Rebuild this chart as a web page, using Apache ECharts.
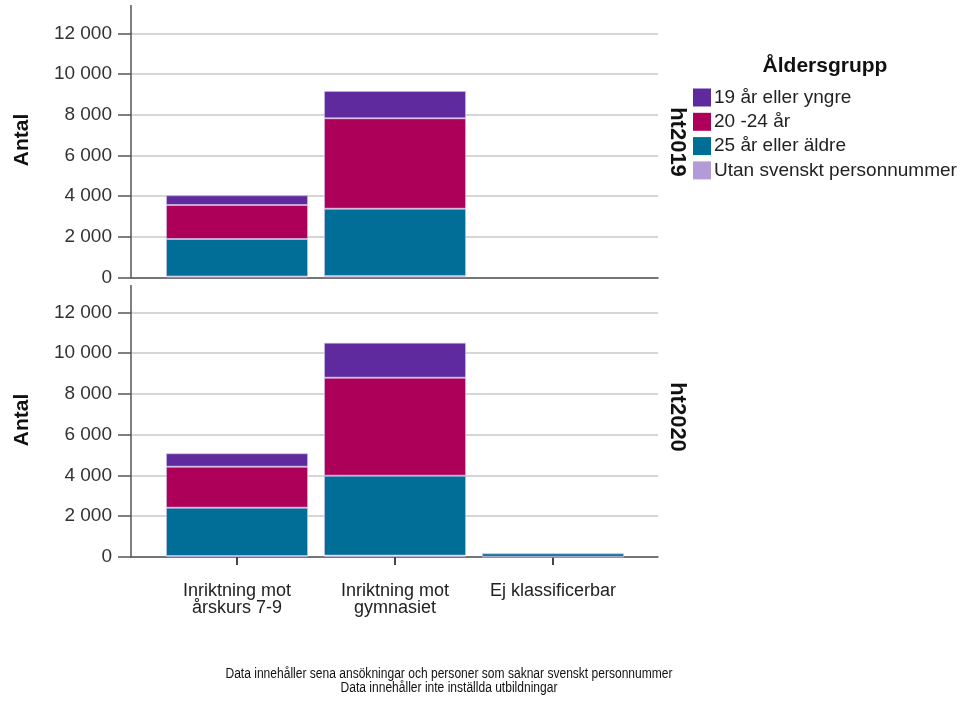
<!DOCTYPE html>
<html>
<head>
<meta charset="utf-8">
<script src="https://cdn.jsdelivr.net/npm/echarts@6/dist/echarts.min.js"></script>
<style>html,body{margin:0;padding:0;background:#fff}#c{width:963px;height:702px}</style>
</head>
<body>
<div id="c"></div>
<script>
const categories = ['Inriktning mot\nårskurs 7-9', 'Inriktning mot\ngymnasiet', 'Ej klassificerbar'];
const panels = ['ht2019', 'ht2020'];
const seriesNames = ['19 år eller yngre', '20 -24 år', '25 år eller äldre', 'Utan svenskt personnummer'];
// values per panel, per category
const y19_2019 = [477, 1344, 0];
const y2024_2019 = [1672, 4446, 0];
const y25_2019 = [1844, 3314, 0];
const utan_2019 = [40, 60, 0];
const y19_2020 = [657, 1716, 0];
const y2024_2020 = [2011, 4807, 0];
const y25_2020 = [2368, 3917, 170];
const utan_2020 = [50, 70, 10];
const yTicks = [0, 2000, 4000, 6000, 8000, 10000, 12000];
const footnote = ['Data innehåller sena ansökningar och personer som saknar svenskt personnummer', 'Data innehåller inte inställda utbildningar'];

const colors = {
  '19 år eller yngre': '#5f2a9e',
  '20 -24 år': '#ad0058',
  '25 år eller äldre': '#006e96',
  'Utan svenskt personnummer': '#b39bd7'
};
const FONT = 'Liberation Sans, Arial, sans-serif';
const panelData = [
  {'19 år eller yngre': y19_2019, '20 -24 år': y2024_2019, '25 år eller äldre': y25_2019, 'Utan svenskt personnummer': utan_2019},
  {'19 år eller yngre': y19_2020, '20 -24 år': y2024_2020, '25 år eller äldre': y25_2020, 'Utan svenskt personnummer': utan_2020}
];
const stackOrder = ['Utan svenskt personnummer', '25 år eller äldre', '20 -24 år', '19 år eller yngre'];

const outer = [
  {left: 131, width: 527, top: 33.3, height: 244},
  {left: 131, width: 527, top: 312.3, height: 244.7}
];
const inner = outer.map(g => ({left: 158, width: 474, top: g.top, height: g.height}));
const grids = outer.concat(inner);
const yMax = yTicks[yTicks.length - 1];
const yStep = yTicks[1] - yTicks[0];
const xAxes = [], yAxes = [], series = [];
outer.forEach((g, i) => {
  xAxes.push({
    type: 'value', gridIndex: i, min: 0, max: 1,
    axisLine: {show: true, onZero: false, lineStyle: {color: '#555', width: 1.5}},
    splitLine: {show: false}, axisTick: {show: false}, axisLabel: {show: false}
  });
  yAxes.push({
    type: 'value', gridIndex: i, min: yTicks[0], max: yMax, interval: yStep,
    axisLine: {show: true, onZero: false, lineStyle: {color: '#555', width: 1.5}},
    axisTick: {show: true, length: 13, lineStyle: {color: '#555', width: 1.5}},
    splitLine: {show: true, lineStyle: {color: '#c8c8c8', width: 1.5}},
    axisLabel: {fontFamily: FONT, fontSize: 19, color: '#333', margin: 19,
      formatter: v => String(v).replace(/\B(?=(\d{3})+(?!\d))/g, ' ')}
  });
});
inner.forEach((g, i) => {
  const last = i === inner.length - 1;
  const gi = outer.length + i;
  xAxes.push({
    type: 'category', gridIndex: gi, data: categories,
    axisLine: {show: false},
    axisTick: {show: last, alignWithLabel: true, length: 8, lineStyle: {color: '#444', width: 2}},
    axisLabel: {show: last, fontFamily: FONT, fontSize: 18, color: '#222', lineHeight: 17, margin: 26, interval: 0}
  });
  yAxes.push({type: 'value', gridIndex: gi, min: yTicks[0], max: yMax, show: false, splitLine: {show: false}});
  stackOrder.forEach(name => {
    series.push({
      name, type: 'bar', xAxisIndex: gi, yAxisIndex: gi, stack: 'p' + i,
      barWidth: 142,
      itemStyle: {color: colors[name], borderColor: 'rgba(205,190,235,0.6)', borderWidth: 1},
      data: panelData[i][name].map(v => (v === 0 ? '-' : v))
    });
  });
});

const txt = (x, y, text, font, rot, extra) => Object.assign({type: 'text', x, y, rotation: rot || 0,
  style: {text, font, fill: '#111', textAlign: 'center', textVerticalAlign: 'middle'}}, extra || {});
const graphic = [
  {type: 'line', shape: {x1: 131, y1: 5, x2: 131, y2: 33}, style: {stroke: '#555', lineWidth: 1.5}},
  {type: 'line', shape: {x1: 131, y1: 285, x2: 131, y2: 312}, style: {stroke: '#555', lineWidth: 1.5}},
  txt(22, 140, 'Antal', 'bold 21px ' + FONT, Math.PI / 2),
  txt(22, 420, 'Antal', 'bold 21px ' + FONT, Math.PI / 2),
  txt(677, 142, panels[0], 'bold 22px ' + FONT, -Math.PI / 2),
  txt(677, 417, panels[1], 'bold 22px ' + FONT, -Math.PI / 2),
  txt(825, 66, 'Åldersgrupp', 'bold 21px ' + FONT, 0),
  txt(449, 674, footnote[0], '14px ' + FONT, 0, {scaleX: 0.86}),
  txt(449, 688, footnote[1], '14px ' + FONT, 0, {scaleX: 0.86})
];

const chart = echarts.init(document.getElementById('c'), null, {renderer: 'canvas'});
chart.setOption({
  animation: false,
  backgroundColor: '#fff',
  grid: grids,
  xAxis: xAxes,
  yAxis: yAxes,
  legend: {
    data: seriesNames, orient: 'vertical', left: 688, top: 83, icon: 'rect',
    itemWidth: 18, itemHeight: 18, itemGap: 5.3,
    itemStyle: {borderWidth: 0},
    textStyle: {fontFamily: FONT, fontSize: 19, lineHeight: 18, color: '#222', padding: [0, 0, 0, -2]}
  },
  series,
  graphic
});
</script>
</body>
</html>
